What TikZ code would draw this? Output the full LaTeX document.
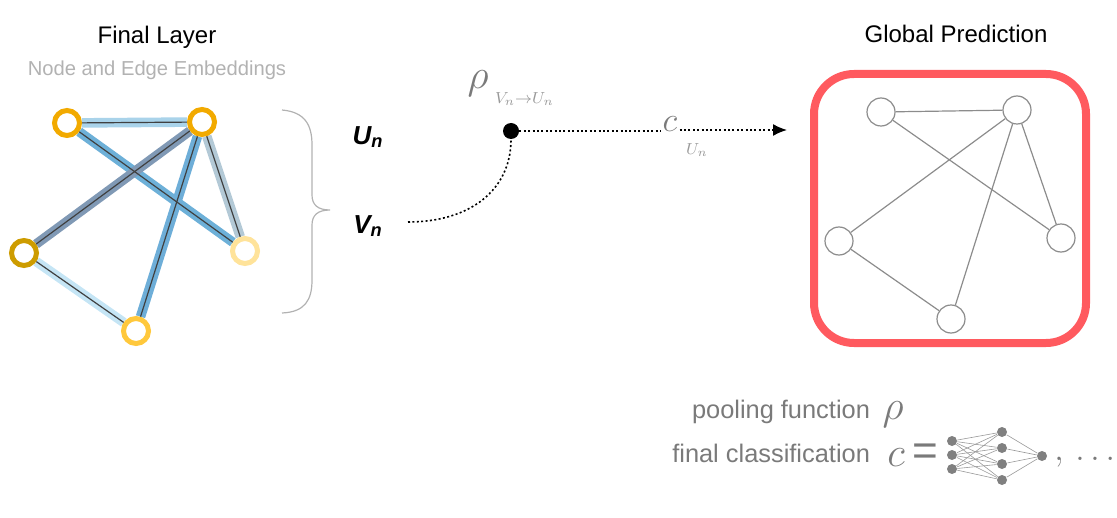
\documentclass[tikz,border=0pt]{standalone}
\usepackage{fontspec}
\setmainfont{Liberation Sans}
\usetikzlibrary{arrows.meta,backgrounds}

\definecolor{ringA}{HTML}{F2AA00}
\definecolor{ringC}{HTML}{CD9C00}
\definecolor{ringD}{HTML}{FFE39A}
\definecolor{ringE}{HTML}{FFC83C}
\definecolor{edgeAB}{HTML}{A9D3EA}
\definecolor{edgeAD}{HTML}{6DB0D8}
\definecolor{edgeBC}{HTML}{8099B5}
\definecolor{edgeBE}{HTML}{6EAED8}
\definecolor{edgeBD}{HTML}{B3C9D6}
\definecolor{edgeCE}{HTML}{C5E5F5}
\definecolor{boxred}{HTML}{FF5A5F}
\definecolor{txtgray}{HTML}{7A7A7A}

\tikzset{
	ring/.style={circle, draw=#1, line width=2.5pt, fill=white, minimum size=12.5pt, inner sep=0pt},
	embed/.style={line width=4.8pt, draw=#1},
	thinline/.style={line width=0.6pt, draw=black!75},
	gnode/.style={circle, draw=black!45, line width=0.6pt, fill=white, minimum size=14pt, inner sep=0pt},
	gedge/.style={draw=black!45, line width=0.6pt},
	nnode/.style={circle, fill=black!50, minimum size=5pt, inner sep=0pt},
	dotline/.style={line width=0.8pt, dash pattern=on 1pt off 1.2pt}
}

\begin{document}
\begin{tikzpicture}[x=0.5pt,y=-0.5pt]
		\useasboundingbox (0,0) rectangle (1117,518);

		% titles
		\node (final) at (157,37) {\fontsize{12}{14}\selectfont Final Layer};
		\node[text=black!30] (embtxt) at (157,70) {\fontsize{10.1}{12}\selectfont Node and Edge Embeddings};
		\node (global) at (956,34) {\fontsize{12}{14}\selectfont Global Prediction};

		% final layer graph
		\node[ring=ringA] (a) at (67,123) {};
		\node[ring=ringA] (b) at (202,122) {};
		\node[ring=ringC] (c) at (24,253) {};
		\node[ring=ringD] (d) at (245,251) {};
		\node[ring=ringE] (e) at (136,331) {};
		\begin{scope}[on background layer]
			\foreach \s/\t/\col in {a/b/edgeAB, a/d/edgeAD, b/c/edgeBC, b/e/edgeBE, b/d/edgeBD, c/e/edgeCE}
				\draw[embed=\col] (\s) -- (\t);
			\foreach \s/\t in {a/b, a/d, b/c, b/e, b/d, c/e}
				\draw[thinline] (\s) -- (\t);
		\end{scope}

		% brace and sets
		\draw[black!30, line width=0.6pt] (282,110) .. controls (305,112) and (312,125) .. (312,145) -- (312,195)
			.. controls (312,205) and (318,210) .. (330,210) .. controls (318,210) and (312,215) .. (312,225) -- (312,280)
			.. controls (312,300) and (305,312) .. (282,313);
		\node (un) at (368,137) {\fontsize{13}{15}\selectfont\bfseries\itshape U\textsubscript{n}};
		\node (vn) at (368,226) {\fontsize{13}{15}\selectfont\bfseries\itshape V\textsubscript{n}};

		% pooling and classification
		\coordinate (vstart) at (408,222);
		\node[circle, fill=black, minimum size=8pt, inner sep=0pt] (pool) at (511,131) {};
		\node[text=txtgray] (rho) at (478,84) {\fontsize{20}{20}\selectfont$\rho$};
		\node[text=black!40, anchor=west] (rhosub) at (488,99) {\fontsize{8.5}{8.5}\selectfont$V_n{\to}U_n$};
		\node[text=txtgray, inner sep=1pt] (cls) at (670,124) {\fontsize{18}{18}\selectfont$c$};
		\node[text=black!40] (clssub) at (697,150) {\fontsize{8.5}{8.5}\selectfont$U_n$};
		\coordinate (out) at (787,130);
		\draw[dotline] (vstart) .. controls (470,222) and (511,190) .. (pool);
		\draw[dotline] (pool) -- (cls.west |- pool);
		\draw[dotline, -{Latex[length=7pt,width=6pt]}] (cls.east |- out) -- (out);

		% global prediction graph
		\draw[boxred, line width=4pt, rounded corners=20pt] (814,74) rectangle (1086,343);
		\node[gnode] (ga) at (881,112) {};
		\node[gnode] (gb) at (1017,110) {};
		\node[gnode] (gc) at (839,241) {};
		\node[gnode] (gd) at (1061,238) {};
		\node[gnode] (ge) at (951,319) {};
		\foreach \s/\t in {ga/gb, ga/gd, gb/gc, gb/ge, gb/gd, gc/ge}
			\draw[gedge] (\s) -- (\t);

		% legend
		\node[text=txtgray, anchor=base east] (pooltxt) at (877,418) {\fontsize{12.7}{14}\selectfont pooling function};
		\node[text=txtgray] (rholeg) at (893,415) {\fontsize{21}{21}\selectfont$\rho$};
		\node[text=txtgray, anchor=base east] (clstxt) at (877,462) {\fontsize{12.7}{14}\selectfont final classification};
		\node[text=txtgray] (clsleg) at (896,458) {\fontsize{21}{21}\selectfont$c$};
		\node[text=txtgray] (eq) at (925,455) {\fontsize{22}{22}\selectfont =};
		\foreach \i/\y in {1/441, 2/455, 3/469}
			\node[nnode] (i\i) at (952,\y) {};
		\foreach \j/\y in {1/432, 2/448, 3/464, 4/480}
			\node[nnode] (h\j) at (1002,\y) {};
		\node[nnode] (o) at (1042,456) {};
		\begin{scope}[on background layer]
			\foreach \i in {1,2,3}
				\foreach \j in {1,2,3,4}
					\draw[black!40, line width=0.3pt] (i\i) -- (h\j);
			\foreach \j in {1,2,3,4}
				\draw[black!40, line width=0.3pt] (h\j) -- (o);
		\end{scope}
		\node[text=txtgray, anchor=west, inner sep=0pt] (etc) at (1054,462) {\fontsize{16}{16}\selectfont$,\,\ldots$};
\end{tikzpicture}
\end{document}
